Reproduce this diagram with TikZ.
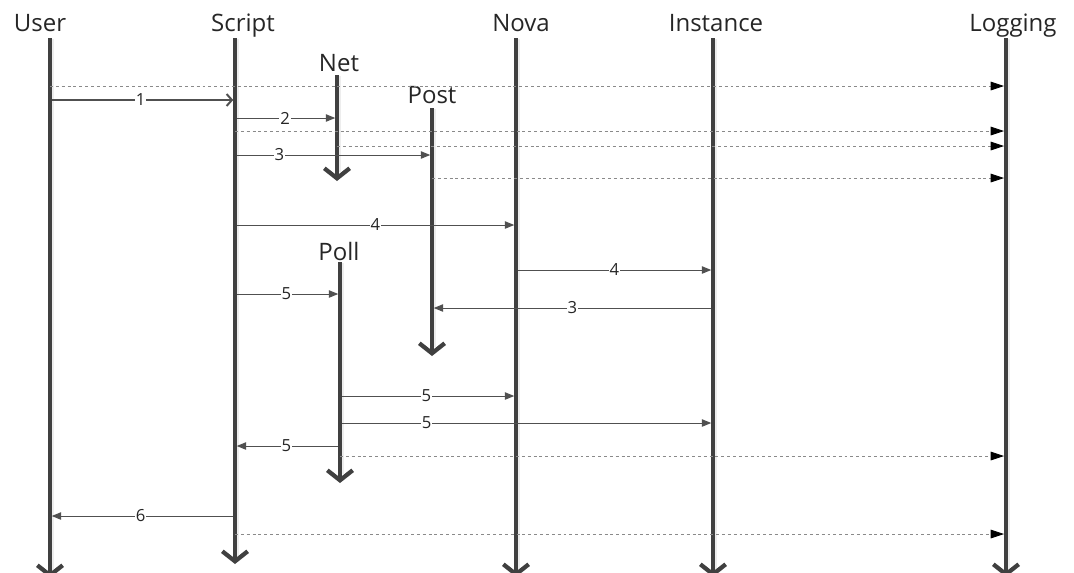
\documentclass[tikz,border=0pt]{standalone}
\usepackage{fontspec}
\setmainfont{Open Sans}
\usetikzlibrary{arrows.meta}
\definecolor{lifegray}{HTML}{404040}
\definecolor{msggray}{HTML}{505050}
\definecolor{dashgray}{HTML}{8A8A8A}
\begin{document}
\begin{tikzpicture}[x=0.75pt,y=-0.75pt,
  head/.style={anchor=base, inner sep=0pt, text=black!85, font=\fontsize{18}{20}\selectfont},
  lbl/.style={fill=white, inner sep=0.6pt, text=black!85, font=\fontsize{12.5}{14}\selectfont},
  lifeline/.style={draw=lifegray, line width=3.6pt,
    -{Straight Barb[length=7.5pt,width=19pt,line width=3.2pt]}},
  shade/.style={draw=black!7, line width=3pt},
  msg/.style={draw=msggray, line width=0.75pt, -{Triangle[length=7pt,width=5.5pt]}},
  call/.style={draw=msggray, line width=1.5pt, -{Straight Barb[length=4pt,width=9pt,line width=1.5pt]}},
  logmsg/.style={draw=dashgray, line width=0.6pt, dash pattern=on 2.2pt off 2.2pt,
    -{Triangle[length=10pt,width=6.5pt,fill=black,color=black]}}]
\useasboundingbox (0,0) rectangle (1074,572);

% lifeline heads
\coordinate (user) at (50,38);
\coordinate (script) at (235,38);
\coordinate (net) at (337,75);
\coordinate (post) at (432,108);
\coordinate (poll) at (340,262);
\coordinate (nova) at (516,38);
\coordinate (inst) at (713,38);
\coordinate (logg) at (1006,38);

% titles
\node[head] (tUser) at (40,31.5) {User};
\node[head] (tScript) at (243,31.5) {Script};
\node[head] (tNova) at (521,31.5) {Nova};
\node[head] (tInst) at (716,31.5) {Instance};
\node[head] (tLog) at (1013,31.5) {Logging};
\node[head] (tNet) at (339,71) {Net};
\node[head] (tPost) at (432,103) {Post};
\node[head] (tPoll) at (339,260) {Poll};

% soft shadows beside the lifelines
\foreach \c/\e in {user/572,script/556,nova/572,inst/572,logg/572,net/172,post/347,poll/474}
  \draw[shade] ([xshift=1.5pt,yshift=-1pt]\c) -- ([xshift=1.5pt]\c |- 0,\e);

% lifelines
\draw[lifeline] (user) -- (user |- 0,578);
\draw[lifeline] (script) -- (script |- 0,564);
\draw[lifeline] (nova) -- (nova |- 0,577);
\draw[lifeline] (inst) -- (inst |- 0,577);
\draw[lifeline] (logg) -- (logg |- 0,577);
\draw[lifeline] (net) -- (net |- 0,181);
\draw[lifeline] (post) -- (post |- 0,356);
\draw[lifeline] (poll) -- (poll |- 0,483);

% log messages
\draw[logmsg] (user |- 0,86) -- ([xshift=-1.5pt]logg |- 0,86);
\draw[logmsg] (script |- 0,131) -- ([xshift=-1.5pt]logg |- 0,131);
\draw[logmsg] (net |- 0,146) -- ([xshift=-1.5pt]logg |- 0,146);
\draw[logmsg] (post |- 0,178) -- ([xshift=-1.5pt]logg |- 0,178);
\draw[logmsg] (poll |- 0,456) -- ([xshift=-1.5pt]logg |- 0,456);
\draw[logmsg] (script |- 0,534) -- ([xshift=-1.5pt]logg |- 0,534);

% calls
\draw[call] ([xshift=1.3pt]user |- 0,100) -- ([xshift=-1.3pt]script |- 0,100) node[lbl, pos=0.49] (l1) {1};
\draw[msg] ([xshift=1.3pt]script |- 0,118) -- ([xshift=-1.3pt]net |- 0,118) node[lbl, pos=0.49] (l2) {2};
\draw[msg] ([xshift=1.3pt]script |- 0,155) -- ([xshift=-1.3pt]post |- 0,155) node[lbl, pos=0.22] (l3) {3};
\draw[msg] ([xshift=1.3pt]script |- 0,225) -- ([xshift=-1.3pt]nova |- 0,225) node[lbl, pos=0.5] (l4) {4};
\draw[msg] ([xshift=1.3pt]nova |- 0,270) -- ([xshift=-1.3pt]inst |- 0,270) node[lbl, pos=0.5] (l4b) {4};
\draw[msg] ([xshift=1.3pt]script |- 0,294) -- ([xshift=-1.3pt]poll |- 0,294) node[lbl, pos=0.49] (l5) {5};
\draw[msg] ([xshift=-1.3pt]inst |- 0,308) -- ([xshift=1.3pt]post |- 0,308) node[lbl, pos=0.5] (l3b) {3};
\draw[msg] ([xshift=1.3pt]poll |- 0,396) -- ([xshift=-1.3pt]nova |- 0,396) node[lbl, pos=0.49] (l5b) {5};
\draw[msg] ([xshift=1.3pt]poll |- 0,423) -- ([xshift=-1.3pt]inst |- 0,423) node[lbl, pos=0.23] (l5c) {5};
\draw[msg] ([xshift=-1.3pt]poll |- 0,446) -- ([xshift=1.3pt]script |- 0,446) node[lbl, pos=0.51] (l5d) {5};
\draw[msg] ([xshift=-1.3pt]script |- 0,516) -- ([xshift=1.3pt]user |- 0,516) node[lbl, pos=0.51] (l6) {6};
\end{tikzpicture}
\end{document}
